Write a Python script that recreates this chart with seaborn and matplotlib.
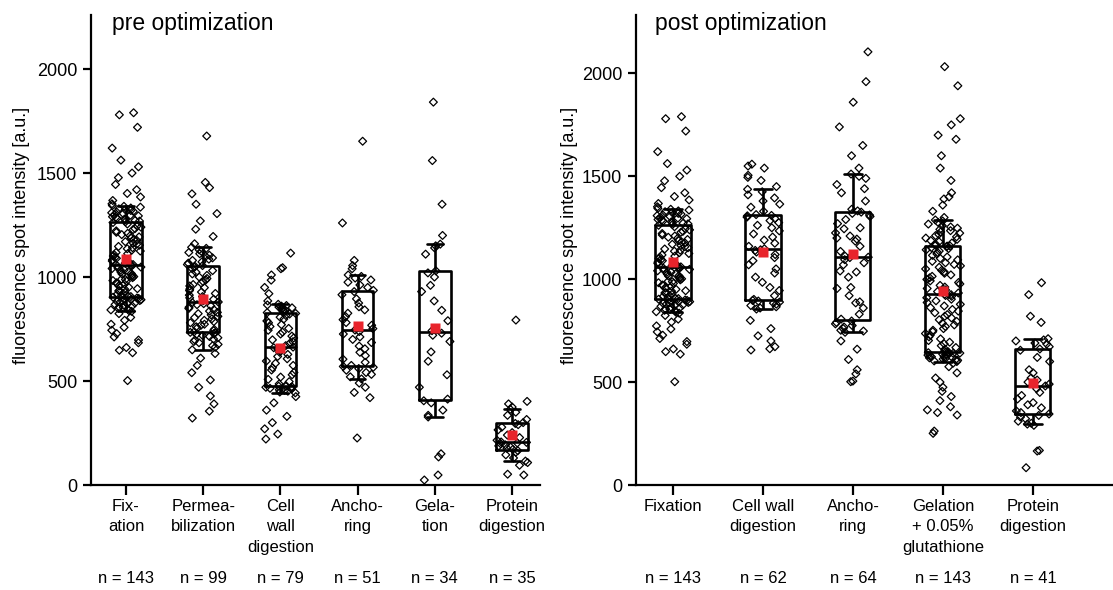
import numpy as np
import pandas as pd
import seaborn as sns
import matplotlib.pyplot as plt


# -------------------------------
# Data
# -------------------------------
pre_labels = ["Fix-\nation", "Permea-\nbilization", "Cell\nwall\ndigestion",
              "Ancho-\nring", "Gela-\ntion", "Protein\ndigestion"]
pre_n = [143, 99, 79, 51, 34, 35]

post_labels = ["Fixation", "Cell wall\ndigestion", "Ancho-\nring",
               "Gelation\n+ 0.05%\nglutathione", "Protein\ndigestion"]
post_n = [143, 62, 64, 143, 41]

# fixation is the same set of spots in both panels
fixation = [
    502, 636, 648, 661, 684, 697, 712, 728, 744, 758, 773, 792, 806, 824,
    835, 839,
    842, 846, 849, 853, 856, 861, 864, 868, 871, 875, 878, 882, 885, 887, 891, 894, 897, 899, 902,
    903, 906,
    908, 911, 917, 921, 926, 933, 935, 942, 944, 951, 957, 958, 966, 970, 972, 980, 983, 988,
    990, 997, 1002, 1003, 1010, 1015, 1017, 1024, 1026, 1033, 1035, 1041, 1044, 1048, 1053, 1055,
    1057,
    1060, 1066, 1071, 1077, 1083, 1090, 1094, 1101, 1107, 1112, 1118, 1125, 1129, 1136, 1141, 1147,
    1153, 1158, 1164, 1170, 1176, 1181, 1187, 1193, 1199, 1204, 1210, 1215, 1222, 1228, 1233, 1240,
    1246, 1255,
    1262, 1266,
    1269, 1272, 1276, 1279, 1283, 1287, 1290, 1294, 1297, 1301, 1305, 1309, 1312, 1316, 1320, 1324,
    1328, 1332, 1336,
    1340, 1344,
    1352, 1368, 1385, 1402, 1420, 1445, 1478, 1500, 1530, 1562, 1620, 1720, 1780, 1790,
]

permeabilization = [
    322, 355, 390, 428, 470, 505, 540, 575, 610, 632,
    650,
    662, 670, 676, 684, 690, 697, 702, 708, 714, 719, 724, 728, 731,
    734, 737,
    742, 748, 755, 761, 768, 773, 780, 786, 792, 799, 805, 811, 818, 824, 830, 836, 843, 849,
    855, 861, 867, 872, 877,
    880,
    886, 893, 900, 906, 913, 921, 928, 935, 942, 949, 957, 964, 971, 978, 986, 993, 1000, 1008,
    1015, 1023, 1031, 1040, 1047,
    1051, 1055,
    1060, 1067, 1073, 1080, 1086, 1092, 1099, 1105, 1112, 1118, 1124, 1131, 1138,
    1143,
    1160, 1195, 1230, 1270, 1305, 1350, 1400, 1430, 1455, 1678,
]

cellwall_pre = [
    221, 245, 270, 300, 330, 360, 395, 425,
    443,
    447, 451, 455, 458, 462, 465, 468, 470, 472, 474,
    475, 478,
    486, 497, 508, 519, 530, 541, 553, 564, 575, 585, 596, 607, 618, 628, 638, 647, 654, 660,
    663,
    670, 680, 689, 698, 707, 716, 726, 735, 744, 753, 762, 771, 780, 789, 798, 807, 815, 822,
    825, 829,
    833, 837, 841, 845, 849, 852, 856, 860, 863, 866,
    869,
    885, 920, 950, 985, 1010, 1040, 1045, 1115,
]

anchoring_pre = [
    226, 420, 445, 470, 490,
    510,
    520, 532, 541, 552, 560, 566,
    570, 575,
    590, 605, 622, 638, 655, 668, 685, 700, 712, 726, 738,
    745,
    752, 768, 781, 795, 810, 826, 842, 857, 875, 895, 915,
    930, 936,
    950, 962, 975, 986, 995, 1003,
    1010,
    1040, 1055, 1080, 1260, 1653,
]

gelation_pre = [
    24, 48, 135, 150,
    327,
    335, 360, 395,
    405, 413,
    470, 530, 595, 640, 690, 720,
    730, 742,
    790, 840, 885, 930, 960, 1000,
    1020, 1030,
    1110, 1140, 1150,
    1158,
    1200, 1350, 1560, 1841,
]

protein_pre = [
    48, 52, 95, 108,
    115,
    130, 145, 158,
    165, 171,
    176, 182, 188, 193, 198, 202, 205,
    207,
    215, 228, 240, 252, 265, 278, 290,
    296, 300,
    315, 335, 350,
    364,
    375, 390, 402, 793,
]

cellwall_post = [
    656, 662, 672, 700, 725, 760, 800,
    855,
    860, 866, 872, 879, 884, 889, 894,
    897, 902,
    920, 945, 960, 985, 1010, 1030, 1050, 1070, 1090, 1105, 1120, 1132, 1140,
    1143, 1148,
    1160, 1175, 1190, 1205, 1220, 1235, 1250, 1262, 1275, 1285, 1295, 1302, 1308,
    1310, 1314,
    1330, 1350, 1365, 1380, 1395, 1410, 1425,
    1437,
    1450, 1480, 1495, 1505, 1540, 1550, 1559,
]

anchoring_post = [
    502, 505, 540, 560, 610, 660, 700,
    742,
    748, 752, 760, 768, 775, 783, 790, 797,
    806,
    830, 860, 885, 890, 920, 955, 960, 1010, 1035, 1040, 1070, 1080, 1095, 1105,
    1107, 1112,
    1135, 1160, 1185, 1195, 1200, 1210, 1225, 1245, 1250, 1270, 1290, 1305, 1312, 1320,
    1326,
    1332, 1340, 1380, 1420, 1440, 1460, 1490, 1500,
    1511,
    1540, 1600, 1650, 1740, 1860, 1960, 2105,
]

gelation_post = [
    251, 262, 340, 352, 365, 380, 410, 430, 455, 475, 500, 520, 545, 575,
    592, 600,
    603, 606, 609, 612, 615, 618, 620, 623, 626, 628, 631, 633, 636, 638, 640, 641, 643, 645, 646,
    647, 650,
    660, 668, 677, 686, 694, 702, 710, 720, 728, 736, 745, 752, 760, 770, 778, 786, 795, 803,
    812, 820, 828, 837, 845, 853, 862, 870, 878, 887, 895, 903, 910, 917, 921, 925,
    927,
    933, 940, 948, 955, 962, 970, 977, 984, 992, 999, 1007, 1014, 1021, 1029, 1036, 1043, 1050,
    1058, 1065, 1072, 1080, 1087, 1094, 1101, 1108, 1116, 1123, 1130, 1137, 1143, 1149, 1154,
    1158, 1161,
    1162, 1165,
    1170, 1176, 1182, 1188, 1194, 1200, 1206, 1212, 1218, 1224, 1230, 1236, 1242, 1248, 1254,
    1260, 1268, 1276, 1283,
    1288, 1300,
    1330, 1360, 1390, 1400, 1420, 1480, 1540, 1600, 1680, 1700, 1750, 1780, 1940, 2033,
]

protein_post = [
    84, 165, 168, 290,
    296,
    300, 310, 322, 330, 338,
    345,
    352, 360, 375, 390, 400, 418, 435, 450, 468,
    481,
    490, 500, 510, 520, 545, 560, 600, 620, 655,
    661,
    672, 685, 690, 700, 705,
    711,
    790, 820, 925, 983,
]

pre_values = [fixation, permeabilization, cellwall_pre, anchoring_pre, gelation_pre, protein_pre]
post_values = [fixation, cellwall_post, anchoring_post, gelation_post, protein_post]


def to_long(labels, values):
    rows = []
    for lab, vals in zip(labels, values):
        for v in vals:
            rows.append({"step": lab, "intensity": v})
    return pd.DataFrame(rows)


# -------------------------------
# Style
# -------------------------------
sns.set_style("ticks")
plt.rcParams["font.family"] = ["Liberation Sans", "DejaVu Sans"]
plt.rcParams["axes.linewidth"] = 1.6
plt.rcParams["axes.edgecolor"] = "black"
plt.rcParams["text.color"] = "black"
plt.rcParams["axes.labelcolor"] = "black"
plt.rcParams["xtick.color"] = "black"
plt.rcParams["ytick.color"] = "black"

W, H = 1113, 590
fig = plt.figure(figsize=(W / 100, H / 100), dpi=100)


def panel(rect, labels, values, counts, ylim, xlim, box_w, title, title_x):
    ax = fig.add_axes(rect)
    df = to_long(labels, values)

    np.random.seed(3)
    sns.stripplot(data=df, x="step", y="intensity", order=labels, ax=ax,
                  jitter=box_w * 0.5, marker="D", size=4, color="black",
                  facecolor="none", edgecolor="black", linewidth=0.9, zorder=3)

    sns.boxplot(data=df, x="step", y="intensity", order=labels, ax=ax,
                width=box_w, fill=False, color="black", linecolor="black",
                linewidth=1.9, whis=(10, 90), showfliers=False, showmeans=True,
                meanprops=dict(marker="s", markerfacecolor="#e8242c",
                               markeredgecolor="none", markersize=6.5, zorder=6),
                zorder=4)

    ax.set_xlim(*xlim)
    ax.set_ylim(*ylim)
    ax.set_yticks([0, 500, 1000, 1500, 2000])
    ax.set_xlabel("")
    ax.set_ylabel("fluorescence spot intensity [a.u.]", fontsize=13)
    ax.tick_params(axis="y", labelsize=13, length=6, width=1.6, pad=4)
    ax.tick_params(axis="x", labelsize=12, length=7, width=1.6, pad=3)
    for t in ax.get_xticklabels():
        t.set_linespacing(1.45)
    sns.despine(ax=ax)

    # n per group under the tick labels
    for i, n in enumerate(counts):
        ax.text(i, -0.198, f"n = {n}", transform=ax.get_xaxis_transform(),
                ha="center", va="center", fontsize=12)

    fig.text(title_x, 1 - 30 / H, title, fontsize=16.5, va="baseline")
    return ax


ax1 = panel([91 / W, 105 / H, 449 / W, 470 / H], pre_labels, pre_values, pre_n,
            (0, 2260), (-0.453, 5.363), 0.41, "pre optimization", 112 / W)
ax1.yaxis.set_label_coords(-0.136, 0.532)

ax2 = panel([636 / W, 105 / H, 477 / W, 470 / H], post_labels, post_values, post_n,
            (0, 2284), (-0.411, 4.89), 0.39, "post optimization", 655 / W)
ax2.yaxis.set_label_coords(-0.122, 0.532)

fig.savefig("out.png", dpi=100)
